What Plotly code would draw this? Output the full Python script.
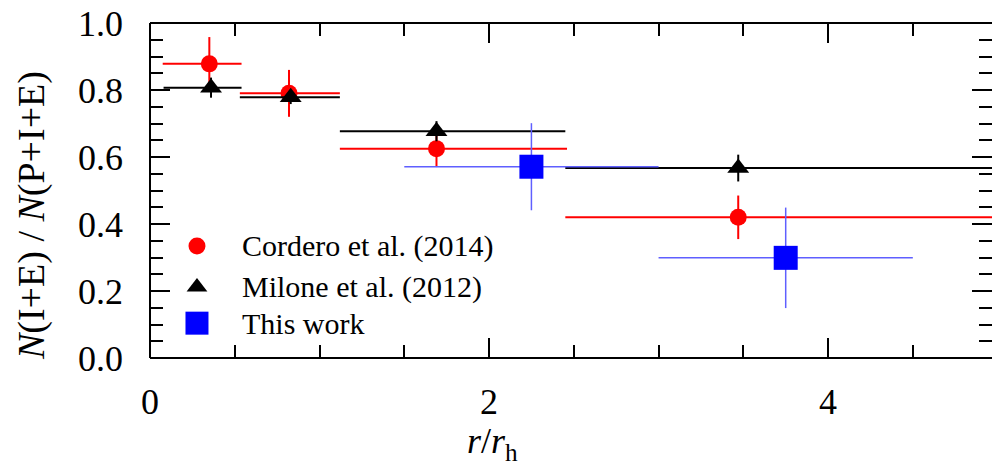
import plotly.graph_objects as go

# ---------------- data ----------------
cordero_x = [0.35, 0.82, 1.69, 3.47]
cordero_y = [0.878, 0.79, 0.625, 0.42]
cordero_yerr = [0.08, 0.07, 0.055, 0.065]
cordero_xlo = [0.075, 0.53, 1.12, 2.45]
cordero_xhi = [0.54, 1.12, 2.46, 5.3]

milone_x = [0.36, 0.83, 1.69, 3.47]
milone_y = [0.807, 0.778, 0.677, 0.567]
milone_yerr = [0.03, 0.02, 0.03, 0.04]
milone_xlo = [0.08, 0.53, 1.12, 2.45]
milone_xhi = [0.54, 1.12, 2.45, 5.3]

thiswork_x = [2.25, 3.75]
thiswork_y = [0.571, 0.299]
thiswork_yerr = [0.13, 0.15]
thiswork_xlo = [1.5, 3.0]
thiswork_xhi = [3.0, 4.5]

legend_labels = ["Cordero et al. (2014)", "Milone et al. (2012)", "This work"]
x_ticks = [0, 2, 4]
y_ticks = [0.0, 0.2, 0.4, 0.6, 0.8, 1.0]

FONT = "Liberation Serif"
RED = "rgb(255,0,0)"
BLACK = "rgb(0,0,0)"
BLUE = "rgb(0,0,255)"
BLUE_ERR = "rgb(95,95,255)"


def xerrs(x, lo, hi):
    plus = [h - v for v, h in zip(x, hi)]
    minus = [v - l for v, l in zip(x, lo)]
    return plus, minus


fig = go.Figure()

cp, cm = xerrs(cordero_x, cordero_xlo, cordero_xhi)
fig.add_trace(go.Scatter(
    x=cordero_x, y=cordero_y, mode="markers", name=legend_labels[0],
    marker=dict(symbol="circle", size=17, color=RED, line=dict(width=0)),
    error_x=dict(type="data", array=cp, arrayminus=cm, color=RED, thickness=2, width=0),
    error_y=dict(type="data", array=cordero_yerr, color=RED, thickness=2, width=0),
    showlegend=False,
))

mp, mm = xerrs(milone_x, milone_xlo, milone_xhi)
fig.add_trace(go.Scatter(
    x=milone_x, y=milone_y, mode="markers", name=legend_labels[1],
    marker=dict(symbol="triangle-up", size=19, color=BLACK, line=dict(width=0)),
    error_x=dict(type="data", array=mp, arrayminus=mm, color=BLACK, thickness=2, width=0),
    error_y=dict(type="data", array=milone_yerr, color=BLACK, thickness=2, width=0),
    showlegend=False,
))

tp, tm = xerrs(thiswork_x, thiswork_xlo, thiswork_xhi)
fig.add_trace(go.Scatter(
    x=thiswork_x, y=thiswork_y, mode="markers", name=legend_labels[2],
    marker=dict(symbol="square", size=24, color=BLUE, line=dict(width=0)),
    error_x=dict(type="data", array=tp, arrayminus=tm, color=BLUE_ERR, thickness=1.5, width=0),
    error_y=dict(type="data", array=thiswork_yerr, color=BLUE_ERR, thickness=1.5, width=0),
    showlegend=False,
))

# ---- manual legend on an overlay axis in plot-fraction coordinates ----
leg_x = [0.0558, 0.0558, 0.0558]
leg_y = [0.334, 0.212, 0.104]
leg_sym = ["circle", "triangle-up", "square"]
leg_col = [RED, BLACK, BLUE]
leg_size = [17, 18, 23]
for i in range(3):
    fig.add_trace(go.Scatter(
        x=[leg_x[i]], y=[leg_y[i]], xaxis="x2", yaxis="y2", mode="markers",
        marker=dict(symbol=leg_sym[i], size=leg_size[i], color=leg_col[i], line=dict(width=0)),
        showlegend=False, hoverinfo="skip",
    ))
    fig.add_annotation(
        x=0.107, y=leg_y[i], xref="paper", yref="paper", text=legend_labels[i],
        showarrow=False, xanchor="left", yanchor="middle",
        font=dict(family=FONT, size=30, color="black"),
    )

# axis titles
fig.add_annotation(
    x=-0.140, y=0.424, xref="paper", yref="paper",
    text="<i>N</i>(I+E) / <i>N</i>(P+I+E)", textangle=-90, showarrow=False,
    xanchor="center", yanchor="middle", font=dict(family=FONT, size=38, color="black"),
)
fig.add_annotation(
    x=0.407, y=-0.255, xref="paper", yref="paper",
    text="<i>r</i>/<i>r</i><sub>h</sub>", showarrow=False,
    xanchor="center", yanchor="middle", font=dict(family=FONT, size=36, color="black"),
)

# frame (left, bottom, top)
for (x0, y0, x1, y1) in [(0, 0, 0, 1), (0, 0, 1, 0), (0, 1, 1, 1)]:
    fig.add_shape(type="line", xref="paper", yref="paper", x0=x0, y0=y0, x1=x1, y1=y1,
                  line=dict(color="black", width=2), layer="above")

fig.update_layout(
    width=992, height=466,
    margin=dict(l=150, r=0, t=23, b=108),
    paper_bgcolor="white", plot_bgcolor="white",
    font=dict(family=FONT, color="black"),
    showlegend=False,
    xaxis=dict(
        range=[0, 4.967], showgrid=False, zeroline=False, showline=False,
        mirror="allticks", ticks="inside", ticklen=20, tickwidth=1.5, tickcolor="black",
        tickvals=x_ticks, ticktext=[str(v) for v in x_ticks],
        tickfont=dict(family=FONT, size=36, color="black"), ticklabelstandoff=19,
        minor=dict(dtick=0.5, ticks="inside", ticklen=13, tickwidth=1.5, tickcolor="black", showgrid=False),
    ),
    yaxis=dict(
        range=[0, 1], showgrid=False, zeroline=False, showline=False,
        mirror="allticks", ticks="inside", ticklen=20, tickwidth=1.5, tickcolor="black",
        tickvals=y_ticks, ticktext=[f"{v:.1f}" for v in y_ticks],
        tickfont=dict(family=FONT, size=36, color="black"), ticklabelstandoff=26,
        minor=dict(dtick=0.05, ticks="inside", ticklen=13, tickwidth=1.5, tickcolor="black", showgrid=False),
    ),
    xaxis2=dict(overlaying="x", range=[0, 1], visible=False, fixedrange=True),
    yaxis2=dict(overlaying="y", range=[0, 1], visible=False, fixedrange=True),
)

fig.write_html("out.html")
